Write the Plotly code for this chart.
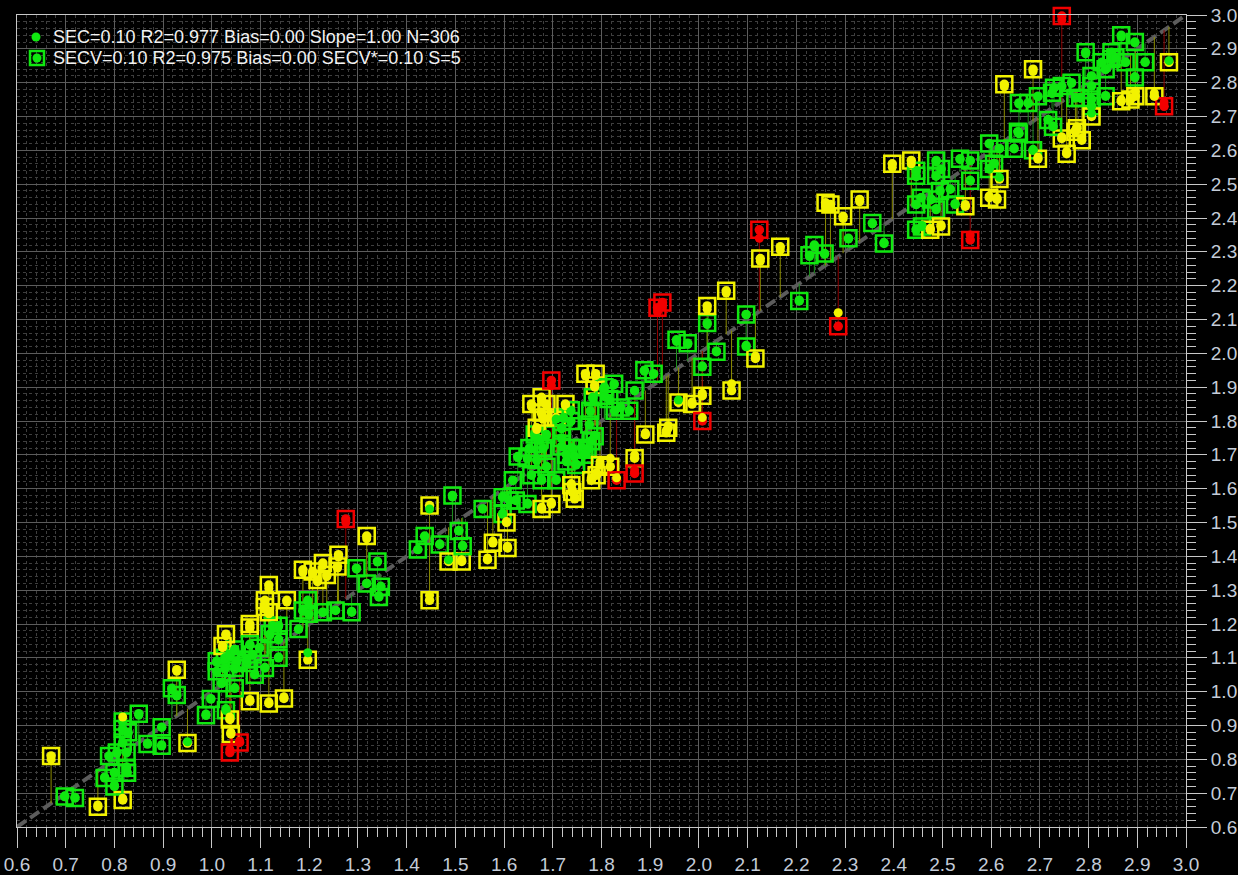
import plotly.graph_objects as go

# ---- data: reference value, cross-validation prediction, calibration prediction ----
ref_x = [
0.670,0.698,0.719,0.766,0.817,0.780,0.789,0.800,0.805,0.817,0.817,0.828,0.817,0.825,0.825,0.800,0.826,0.850,0.868,0.897,
0.897,0.950,0.918,0.928,0.928,0.998,0.988,1.029,1.037,1.039,1.037,1.057,1.078,1.117,1.148,1.020,1.047,1.010,1.027,1.051,
1.010,1.027,1.047,1.072,1.037,1.047,1.022,1.029,1.078,1.078,1.078,1.098,1.084,1.072,1.109,1.088,1.125,1.137,1.119,1.137,
1.137,1.109,1.109,1.117,1.117,1.154,1.197,1.187,1.199,1.228,1.254,1.287,1.178,1.197,1.187,1.207,1.236,1.217,1.228,1.258,
1.260,1.318,1.297,1.340,1.318,1.347,1.343,1.275,1.447,1.447,1.423,1.437,1.468,1.486,1.513,1.515,1.507,1.494,1.566,1.577,
1.607,1.556,1.597,1.605,1.597,1.611,1.624,1.648,1.677,1.697,1.618,1.656,1.677,1.707,1.628,1.648,1.667,1.687,1.652,1.680,
1.673,1.663,1.687,1.718,1.718,1.718,1.739,1.759,1.771,1.728,1.744,1.765,1.728,1.748,1.775,1.786,1.779,1.667,1.656,1.677,
1.687,1.677,1.680,1.707,1.722,1.737,1.726,1.737,1.697,1.767,1.788,1.786,1.806,1.826,1.782,1.806,1.816,1.777,1.827,1.857,
1.839,1.868,1.888,1.907,1.797,1.818,1.790,1.779,1.831,1.868,1.868,1.890,1.738,1.745,1.740,1.958,1.986,2.007,2.007,2.067,
1.937,1.933,1.954,1.977,2.036,2.007,2.017,2.017,2.056,1.925,1.915,2.097,2.097,2.116,2.124,2.126,2.167,2.206,2.227,2.237,
2.258,2.307,2.296,2.260,2.270,2.330,2.356,2.380,2.286,2.397,2.436,2.446,2.446,2.487,2.497,2.487,2.536,2.557,2.557,2.495,
2.516,2.456,2.477,2.446,2.487,2.526,2.547,2.446,2.458,2.475,2.497,2.557,2.596,2.617,2.647,2.657,2.596,2.606,2.617,2.596,
2.612,2.686,2.696,2.745,2.755,2.786,2.773,2.745,2.627,2.686,2.657,2.676,2.696,2.725,2.729,2.745,2.765,2.655,2.717,2.727,
2.776,2.794,2.806,2.806,2.827,2.847,2.847,2.855,2.835,2.876,2.867,2.895,2.916,2.895,2.806,2.783,2.773,2.835,2.806,2.867,
2.886,2.896,2.935,2.965,2.955,2.806]

pred_cv = [
0.810,0.690,0.686,0.660,0.680,0.745,0.810,0.720,0.820,0.912,0.890,0.880,0.850,0.820,0.775,0.760,0.760,0.935,0.845,0.895,
0.840,0.848,1.010,0.990,1.065,0.978,0.930,0.945,0.918,0.875,0.820,0.850,0.972,0.965,0.980,1.025,1.010,1.090,1.100,1.090,
1.060,1.070,1.070,1.085,1.110,1.125,1.135,1.170,1.200,1.190,1.140,1.130,1.110,1.095,1.070,1.050,1.195,1.195,1.170,1.155,
1.100,1.270,1.250,1.235,1.315,1.270,1.270,1.240,1.230,1.235,1.240,1.235,1.185,1.094,1.360,1.355,1.345,1.330,1.380,1.370,
1.405,1.460,1.365,1.385,1.320,1.310,1.280,1.510,1.550,1.270,1.420,1.460,1.435,1.385,1.385,1.430,1.475,1.580,1.390,1.440,
1.425,1.540,1.525,1.500,1.575,1.565,1.565,1.555,1.540,1.555,1.625,1.640,1.625,1.625,1.695,1.690,1.685,1.665,1.720,1.720,
1.745,1.760,1.760,1.780,1.750,1.725,1.720,1.720,1.715,1.700,1.695,1.700,1.680,1.670,1.790,1.755,1.740,1.780,1.850,1.870,
1.850,1.825,1.810,1.810,1.810,1.800,1.850,1.832,1.920,1.940,1.940,1.905,1.900,1.910,1.870,1.875,1.865,1.830,1.830,1.830,
1.840,1.890,1.950,1.940,1.670,1.665,1.640,1.625,1.625,1.690,1.645,1.760,1.610,1.570,1.590,1.855,1.850,1.875,1.800,1.890,
1.780,1.765,2.040,2.030,2.005,1.960,2.090,2.140,2.185,2.150,2.135,2.115,2.020,1.985,2.365,2.280,2.315,2.155,2.290,2.320,
2.295,2.340,2.405,2.445,2.440,2.455,2.385,2.325,2.080,2.560,2.570,2.525,2.540,2.570,2.545,2.525,2.575,2.570,2.510,2.480,
2.485,2.460,2.455,2.440,2.425,2.440,2.435,2.365,2.375,2.365,2.375,2.335,2.620,2.605,2.605,2.650,2.545,2.560,2.515,2.460,
2.455,2.600,2.575,2.635,2.590,2.630,2.655,2.997,2.795,2.840,2.740,2.740,2.760,2.770,2.785,2.790,2.800,2.655,2.690,2.670,
2.665,2.890,2.820,2.790,2.860,2.890,2.870,2.875,2.840,2.860,2.940,2.920,2.860,2.815,2.730,2.755,2.755,2.760,2.750,2.745,
2.750,2.760,2.760,2.860,2.730,2.700]

pred_cal = [
0.800,0.692,0.688,0.665,0.685,0.748,0.808,0.725,0.818,0.925,0.885,0.876,0.848,0.821,0.778,0.762,0.763,0.930,0.848,0.895,
0.843,0.852,1.005,0.987,1.060,0.980,0.934,0.950,0.925,0.880,0.830,0.855,0.977,0.970,0.985,1.024,1.012,1.086,1.096,1.087,
1.057,1.067,1.067,1.084,1.106,1.120,1.130,1.165,1.195,1.186,1.137,1.128,1.108,1.094,1.072,1.053,1.190,1.192,1.167,1.153,
1.103,1.262,1.244,1.230,1.305,1.265,1.266,1.238,1.229,1.234,1.241,1.238,1.185,1.115,1.352,1.348,1.340,1.325,1.373,1.365,
1.398,1.452,1.362,1.383,1.320,1.312,1.284,1.500,1.540,1.285,1.420,1.458,1.437,1.390,1.390,1.433,1.477,1.575,1.395,1.445,
1.430,1.541,1.527,1.503,1.576,1.566,1.567,1.558,1.545,1.560,1.624,1.641,1.627,1.628,1.692,1.688,1.684,1.666,1.717,1.718,
1.742,1.757,1.757,1.777,1.748,1.724,1.721,1.722,1.718,1.702,1.697,1.702,1.682,1.673,1.789,1.757,1.742,1.775,1.842,1.862,
1.845,1.820,1.805,1.806,1.807,1.798,1.845,1.828,1.905,1.933,1.934,1.900,1.897,1.907,1.867,1.872,1.863,1.828,1.830,1.831,
1.840,1.889,1.947,1.938,1.680,1.690,1.648,1.632,1.632,1.700,1.655,1.765,1.615,1.577,1.596,1.862,1.856,1.882,1.810,1.910,
1.787,1.772,2.035,2.026,2.007,1.963,2.085,2.130,2.178,2.140,2.122,2.114,2.024,1.992,2.340,2.272,2.305,2.158,2.286,2.314,
2.293,2.338,2.398,2.435,2.432,2.448,2.383,2.328,2.120,2.550,2.560,2.522,2.536,2.566,2.543,2.523,2.573,2.569,2.512,2.481,
2.486,2.460,2.456,2.440,2.428,2.443,2.440,2.368,2.378,2.370,2.380,2.350,2.619,2.606,2.606,2.650,2.547,2.562,2.520,2.465,
2.460,2.603,2.580,2.640,2.597,2.637,2.660,2.985,2.788,2.833,2.737,2.738,2.758,2.768,2.783,2.788,2.798,2.655,2.692,2.672,
2.670,2.885,2.819,2.791,2.858,2.887,2.868,2.873,2.839,2.861,2.935,2.918,2.862,2.818,2.733,2.757,2.757,2.762,2.752,2.750,
2.755,2.775,2.770,2.865,2.742,2.710]

axis_min, axis_max = 0.6, 3.0
legend_sec = "SEC=0.10 R2=0.977 Bias=0.00 Slope=1.00 N=306"
legend_secv = "SECV=0.10 R2=0.975 Bias=0.00 SECV*=0.10 S=5"

GREEN, YELLOW, RED = "#10e810", "#f2f200", "#f20000"
GREEN_L, YELLOW_L, RED_L = "#1f8f1f", "#8c8c00", "#900000"


def cls(res):
    r = abs(res)
    return 0 if r < 0.1 else (1 if r < 0.2 else 2)


marker_cols = [GREEN, YELLOW, RED]
line_cols = [GREEN_L, YELLOW_L, RED_L]

cv_cls = [cls(c - x) for x, c in zip(ref_x, pred_cv)]
cal_cls = [cls(c - x) for x, c in zip(ref_x, pred_cal)]

fig = go.Figure()

# 1:1 line
fig.add_trace(go.Scatter(x=[axis_min, axis_max], y=[axis_min, axis_max], mode="lines",
                         line=dict(color="#5c5c5c", width=4, dash="11px,5px"),
                         hoverinfo="skip", showlegend=False))

# residual lines from the 1:1 line to the CV prediction
for k in range(3):
    lx, ly = [], []
    for x, c, cc in zip(ref_x, pred_cv, cv_cls):
        if cc == k:
            lx += [x, x, None]
            ly += [x, c, None]
    fig.add_trace(go.Scatter(x=lx, y=ly, mode="lines", line=dict(color=line_cols[k], width=1),
                             hoverinfo="skip", showlegend=False))

# CV markers: square outline with a dot
fig.add_trace(go.Scatter(x=ref_x, y=pred_cv, mode="markers", cliponaxis=False,
                         marker=dict(symbol="square-open", size=16,
                                     color=[marker_cols[c] for c in cv_cls],
                                     line=dict(width=2.5, color=[marker_cols[c] for c in cv_cls])),
                         showlegend=False, name="SECV"))
fig.add_trace(go.Scatter(x=ref_x, y=pred_cv, mode="markers", cliponaxis=False,
                         marker=dict(symbol="circle", size=9.5, color=[marker_cols[c] for c in cv_cls],
                                     line=dict(width=0)),
                         showlegend=False, hoverinfo="skip"))
# calibration markers
fig.add_trace(go.Scatter(x=ref_x, y=pred_cal, mode="markers", cliponaxis=False,
                         marker=dict(symbol="circle", size=9, color=[marker_cols[c] for c in cal_cls],
                                     line=dict(width=0)),
                         showlegend=False, name="SEC"))

W, H = 1238, 875
ML, MR, MT, MB = 17, 52, 15, 48
PW, PH = W - ML - MR, H - MT - MB


def px(xp):
    return (xp - ML) / PW


def py(yp):
    return (H - MB - yp) / PH


tick_font = dict(family="Liberation Sans, Arial, sans-serif", size=19, color="#c4ccd8")
axis_common = dict(range=[axis_min, axis_max], tick0=axis_min, dtick=0.1, tickformat=".1f",
                   automargin=False,
                   showgrid=True, gridcolor="#5c5c5c", gridwidth=1,
                   showline=True, linecolor="#c8c8c8", linewidth=1, mirror=True,
                   ticks="outside", ticklen=20, tickwidth=1, tickcolor="#c8c8c8",
                   tickfont=tick_font, zeroline=False,
                   minor=dict(dtick=0.02, ticklen=9, tickwidth=1, tickcolor="#c8c8c8", ticks="outside",
                              showgrid=True, gridcolor="#3e3e3e", griddash="dot", gridwidth=1))

shapes = [
    # legend background
    dict(type="rect", xref="paper", yref="paper", x0=px(18), x1=px(466), y0=py(71), y1=py(22),
         fillcolor="#000000", line=dict(width=0), layer="between"),
    # legend icon 1 (calibration dot)
    dict(type="circle", xref="paper", yref="paper", xsizemode="pixel", ysizemode="pixel",
         xanchor=px(36), yanchor=py(37), x0=-4.5, x1=4.5, y0=-4.5, y1=4.5,
         fillcolor=GREEN, line=dict(width=0)),
    # legend icon 2 (CV square + dot)
    dict(type="rect", xref="paper", yref="paper", xsizemode="pixel", ysizemode="pixel",
         xanchor=px(37), yanchor=py(58), x0=-7, x1=7, y0=-7, y1=7,
         line=dict(color=GREEN, width=2.5)),
    dict(type="circle", xref="paper", yref="paper", xsizemode="pixel", ysizemode="pixel",
         xanchor=px(37), yanchor=py(58), x0=-4.5, x1=4.5, y0=-4.5, y1=4.5,
         fillcolor=GREEN, line=dict(width=0)),
]

ann_font = dict(family="Liberation Sans, Arial, sans-serif", size=18, color="#f2f2f2")
annotations = [
    dict(xref="paper", yref="paper", x=px(51), y=py(37), text=legend_sec, showarrow=False,
         xanchor="left", yanchor="middle", font=ann_font),
    dict(xref="paper", yref="paper", x=px(51), y=py(58), text=legend_secv, showarrow=False,
         xanchor="left", yanchor="middle", font=ann_font),
]

fig.update_layout(
    width=W, height=H,
    margin=dict(l=ML, r=MR, t=MT, b=MB, pad=0, autoexpand=False),
    paper_bgcolor="#000000", plot_bgcolor="#000000",
    xaxis=dict(side="bottom", **axis_common),
    yaxis=dict(side="right", **axis_common),
    shapes=shapes, annotations=annotations,
    showlegend=False,
)

fig.write_html(
    "out.html",
    config={"displayModeBar": False},
    post_script="document.body.style.margin='0';document.body.style.padding='0';"
                "document.body.style.background='#000';document.body.style.overflow='hidden';",
)
